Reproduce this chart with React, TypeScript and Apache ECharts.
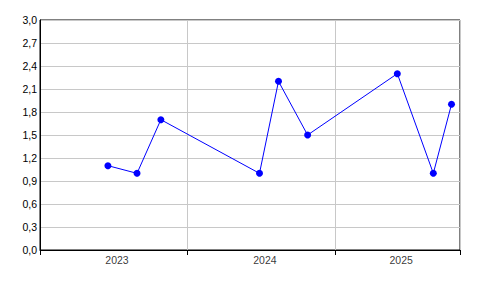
import React, { useEffect, useRef } from "react";
import * as echarts from "echarts";

// Data
const dates = [
  "2023-06-18",
  "2023-08-29",
  "2023-10-27",
  "2024-06-27",
  "2024-08-13",
  "2024-10-24",
  "2025-06-03",
  "2025-08-31",
  "2025-10-15",
];
const values = [1.1, 1.0, 1.7, 1.0, 2.2, 1.5, 2.3, 1.0, 1.9];
const yearLabels = ["2023", "2024", "2025"];
const yearLabelDates = ["2023-07-03", "2024-07-03", "2025-06-05"];
const startDate = "2023-01-01";
const endDate = "2025-11-05";

const dayIndex = (s: string) => {
  const [y, m, d] = s.split("-").map(Number);
  const [y0, m0, d0] = startDate.split("-").map(Number);
  return (Date.UTC(y, m - 1, d) - Date.UTC(y0, m0 - 1, d0)) / 86400000;
};

const FONT = "Liberation Sans, Arial, sans-serif";

export default function App() {
  const ref = useRef<HTMLDivElement>(null);
  useEffect(() => {
    if (!ref.current) return;
    const chart = echarts.init(ref.current, undefined, { renderer: "svg" });
    chart.setOption({
      animation: false,
      backgroundColor: "#fff",
      grid: {
        left: 40,
        right: 36,
        top: 20,
        bottom: 46,
        show: true,
        borderColor: "#000",
        borderWidth: 1,
        backgroundColor: "transparent",
      },
      xAxis: {
        type: "value",
        min: 0,
        max: dayIndex(endDate),
        interval: 365.25,
        axisLine: { show: true, lineStyle: { color: "#000", width: 1 } },
        axisTick: { show: true, length: 5, lineStyle: { color: "#000" } },
        axisLabel: { show: false },
        splitLine: { show: true, lineStyle: { color: "#c8c8c8", width: 1 } },
      },
      yAxis: {
        type: "value",
        min: 0,
        max: 3,
        interval: 0.3,
        axisLine: { show: true, lineStyle: { color: "#000", width: 1 } },
        axisTick: { show: false },
        axisLabel: {
          color: "#000",
          fontFamily: FONT,
          fontSize: 10.5,
          margin: 3,
          formatter: (v: number) => v.toFixed(1).replace(".", ","),
        },
        splitLine: { show: true, lineStyle: { color: "#c8c8c8", width: 1 } },
      },
      series: [
        {
          type: "line",
          data: dates.map((d, i) => [dayIndex(d), values[i]]),
          symbol: "circle",
          symbolSize: 7,
          lineStyle: { color: "#0000ff", width: 1 },
          itemStyle: { color: "#0000ff" },
          z: 3,
        },
        {
          type: "scatter",
          data: yearLabelDates.map((d, i) => ({ value: [dayIndex(d), 0], name: yearLabels[i] })),
          symbolSize: 0,
          silent: true,
          clip: false,
          label: {
            show: true,
            position: "inside",
            offset: [3, 10],
            formatter: (p: any) => p.name,
            color: "#000",
            fontFamily: FONT,
            fontSize: 10.5,
          },
        },
      ],
    });
    return () => chart.dispose();
  }, []);
  return (
    <div
      ref={ref}
      style={{ position: "fixed", left: 0, top: 0, width: 496, height: 296 }}
    />
  );
}
